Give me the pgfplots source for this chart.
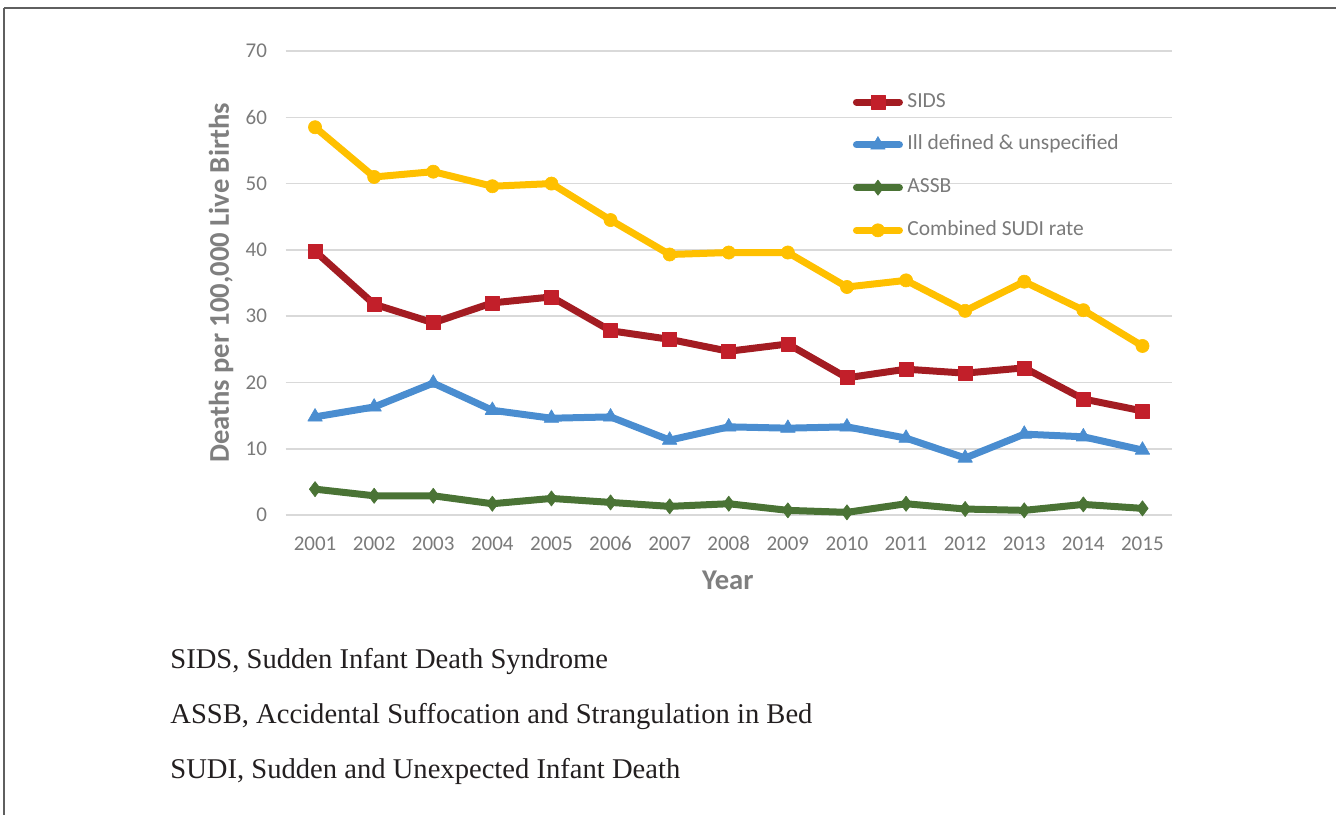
\documentclass[border=0pt]{standalone}
\usepackage{fontspec}
\setmainfont{Carlito}
\newfontfamily\seriffont{Liberation Serif}
\usepackage{pgfplots}
\usepackage{pgfplotstable}
\pgfplotsset{compat=1.18}
\definecolor{gridc}{HTML}{D9D9D9}
\definecolor{tickc}{HTML}{7A7A7A}
\definecolor{labc}{HTML}{7F7F7F}
\definecolor{framec}{HTML}{5F5F5F}
\definecolor{sidsline}{HTML}{A31C22}
\definecolor{sidsmark}{HTML}{C21F2A}
\definecolor{illc}{HTML}{4A8DD0}
\definecolor{assbc}{HTML}{4A7335}
\definecolor{sudic}{HTML}{FFC000}
\definecolor{footc}{HTML}{231F20}

\pgfplotstableread{
year sids ill assb sudi
2001 39.8 14.8 3.9 58.5
2002 31.8 16.3 2.9 51.0
2003 29.0 19.9 2.9 51.8
2004 32.0 15.8 1.7 49.6
2005 32.9 14.6 2.5 50.0
2006 27.8 14.8 1.9 44.5
2007 26.5 11.3 1.3 39.3
2008 24.7 13.3 1.7 39.6
2009 25.8 13.1 0.7 39.6
2010 20.7 13.3 0.4 34.4
2011 22.0 11.6 1.7 35.4
2012 21.4 8.6 0.9 30.8
2013 22.2 12.2 0.7 35.2
2014 17.5 11.8 1.6 30.9
2015 15.7 9.8 1.0 25.5
}\datatable

\begin{document}
\begin{tikzpicture}
\useasboundingbox (0,0) rectangle (668bp,-407.5bp);
\draw[color=framec, line width=1.2bp] (2bp,-4bp) -- (668bp,-4bp);
\draw[color=framec, line width=0.7bp] (2bp,-4bp) -- (2bp,-407.5bp);
\begin{axis}[
  scale only axis, width=443.25bp, height=232bp,
  at={(142.75bp,-257.5bp)}, anchor=south west,
  xmin=2000.5, xmax=2015.5, ymin=0, ymax=70,
  xtick={2001,2002,...,2015}, ytick={0,10,...,70},
  ymajorgrids, grid style={gridc, line width=0.8bp},
  axis line style={draw=none}, major tick length=0pt,
  /pgf/number format/assume math mode=true,
  tick label style={font=\fontsize{10.5bp}{12bp}\selectfont, text=tickc},
  x tick label style={/pgf/number format/1000 sep={}, yshift=-7.2bp},
  y tick label style={xshift=-5.75bp},
  xlabel={Year}, ylabel={Deaths per 100,000 Live Births},
  label style={font=\bfseries\fontsize{14.3bp}{16bp}\selectfont, text=labc},
  xlabel style={at={(axis description cs:0.499,-0.140)}, anchor=center},
  ylabel style={at={(axis description cs:-0.0728,0.5)}, anchor=center},
  clip=false,
  legend cell align=left,
  legend style={at={(axis description cs:0.6357,0.912)}, anchor=north west,
    draw=none, fill=none, inner sep=0pt,
    font=\fontsize{10.75bp}{12bp}\selectfont, text=tickc,
    row sep=11.35bp,
    nodes={inner sep=0pt, text height=7.4bp, text depth=2.6bp},
    /tikz/every odd column/.append style={column sep=0.5bp}},
  legend image code/.code={\path (0bp,0bp) (25bp,0bp);\draw[mark repeat=2,mark phase=2,#1] plot coordinates {(1.75bp,0bp)(12.5bp,0bp)(23.25bp,0bp)};},
  every axis plot/.append style={line width=3.5bp, line join=round, line cap=round},
]
\addplot[sidsline, mark=square*, mark size=3.5bp, mark options={solid, line width=0.3bp, fill=sidsmark, draw=sidsmark}] table[x=year, y=sids] {\datatable};
\addlegendentry{SIDS}
\addplot[illc, mark=triangle*, mark size=4.2bp, mark options={solid, line width=0.3bp, fill=illc, draw=illc}] table[x=year, y=ill] {\datatable};
\addlegendentry{Ill defined \& unspecified}
\addplot[assbc, mark=diamond*, mark size=3.8bp, mark options={solid, line width=0.3bp, fill=assbc, draw=assbc}] table[x=year, y=assb] {\datatable};
\addlegendentry{ASSB}
\addplot[sudic, mark=*, mark size=3.3bp, mark options={solid, line width=0.3bp, fill=sudic, draw=sudic}] table[x=year, y=sudi] {\datatable};
\addlegendentry{Combined SUDI rate}
\end{axis}
\begin{scope}[every node/.style={anchor=base west, inner sep=0pt, text=footc, font=\seriffont\fontsize{14.3bp}{16bp}\selectfont}]
\node at (85bp,-334bp) {SIDS, Sudden Infant Death Syndrome};
\node at (85bp,-361.5bp) {ASSB, Accidental Suffocation and Strangulation in Bed};
\node at (85bp,-389bp) {SUDI, Sudden and Unexpected Infant Death};
\end{scope}
\end{tikzpicture}
\end{document}
